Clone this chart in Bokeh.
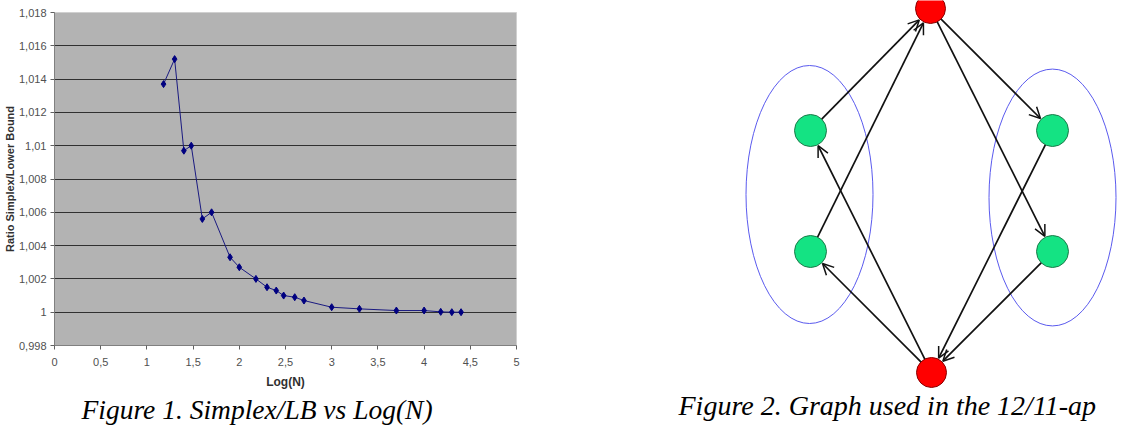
import math
from bokeh.plotting import figure
from bokeh.models import (FixedTicker, CustomJSTickFormatter, Title, Range1d,
                          ColumnDataSource, Arrow, OpenHead)
from bokeh.core.properties import value
from bokeh.layouts import row, column
from bokeh.embed import file_html
from bokeh.resources import INLINE

# ---------------- Figure 1 data ----------------
log_n = [1.18, 1.30, 1.40, 1.48, 1.60, 1.70, 1.90, 2.00, 2.18, 2.30, 2.40,
         2.48, 2.60, 2.70, 3.00, 3.30, 3.70, 4.00, 4.18, 4.30, 4.40]
ratio = [1.0137, 1.0152, 1.0097, 1.0100, 1.0056, 1.0060, 1.0033, 1.0027,
         1.0020, 1.0015, 1.0013, 1.0010, 1.0009, 1.0007, 1.0003, 1.0002,
         1.0001, 1.0001, 1.00002, 1.0000, 1.0000]
x_ticks = [0, 0.5, 1, 1.5, 2, 2.5, 3, 3.5, 4, 4.5, 5]
y_ticks = [0.998, 1.000, 1.002, 1.004, 1.006, 1.008, 1.010, 1.012, 1.014, 1.016, 1.018]
x_title = "Log(N)"
y_title = "Ratio Simplex/Lower Bound"
caption1 = "Figure 1. Simplex/LB vs Log(N)"

# ---------------- Figure 2 data ----------------
node_names = ["top", "L1", "L2", "R1", "R2", "bottom"]
node_x = [930, 810, 810, 1052, 1052, 931]
node_y = [8, 130, 251, 130, 251, 372]
node_r = [15, 16, 16, 16, 16, 15]
node_color = ["#ff0000", "#14e383", "#14e383", "#14e383", "#14e383", "#ff0000"]
node_line = ["#8a0000", "#1d7a4a", "#1d7a4a", "#1d7a4a", "#1d7a4a", "#8a0000"]
edges = [("L1", "top"), ("L2", "top"), ("top", "R1"), ("top", "R2"),
         ("R1", "bottom"), ("R2", "bottom"), ("bottom", "L1"), ("bottom", "L2")]
ell_x = [809, 1052]
ell_y = [194, 197]
ell_w = [127, 127]
ell_h = [258, 257]
caption2 = "Figure 2. Graph used in the 12/11-ap"

W, H = 1137, 426
W1 = 560

# ---------------- Figure 1 ----------------
p1 = figure(width=W1, height=H, output_backend="svg", toolbar_location=None,
            x_range=Range1d(0, 5), y_range=Range1d(0.998, 1.018),
            min_border_left=51, min_border_right=44, min_border_top=12,
            min_border_bottom=81)
p1.background_fill_color = "#b3b3b3"
p1.border_fill_color = "white"
p1.outline_line_color = "#d0d0d0"

fmt = CustomJSTickFormatter(code="return String(Math.round(tick*1000)/1000).replace('.', ',');")
for ax, ticks in ((p1.xaxis[0], x_ticks), (p1.yaxis[0], y_ticks)):
    ax.ticker = FixedTicker(ticks=ticks)
    ax.formatter = fmt
    ax.axis_line_color = "#808080"
    ax.major_tick_line_color = "#606060"
    ax.major_tick_out = 4
    ax.major_tick_in = 0
    ax.minor_tick_out = 0
    ax.minor_tick_in = 0
    ax.major_label_text_font = "Liberation Sans"
    ax.major_label_text_font_size = "11px"
    ax.major_label_text_color = "#505050"
    ax.axis_label_text_font = "Liberation Sans"
    ax.axis_label_text_font_size = "11px"
    ax.axis_label_text_font_style = "bold"
    ax.axis_label_text_color = "#303030"
p1.xaxis.major_label_standoff = 8
p1.yaxis.major_label_standoff = 4
p1.xaxis.axis_label = x_title
p1.xaxis.axis_label_text_font_size = "12px"
p1.xaxis.axis_label_standoff = 6
p1.yaxis.axis_label = y_title
p1.yaxis.axis_label_standoff = 0

p1.xgrid.visible = False
p1.ygrid.ticker = FixedTicker(ticks=y_ticks[1:-1])
p1.ygrid.grid_line_color = "#303030"
p1.ygrid.grid_line_width = 1

p1.line(log_n, ratio, line_color="#1a1a80", line_width=1)
p1.scatter(log_n, ratio, marker="diamond", size=7, fill_color="#000080",
           line_color="#000080")

p1.add_layout(Title(text=caption1, align="left", offset=27, standoff=0,
                    text_font="Liberation Serif", text_font_size="27.5px",
                    text_font_style="italic", text_color="black"), "below")

# ---------------- Figure 2 ----------------
p2 = figure(width=W - W1, height=H, output_backend="svg", toolbar_location=None,
            x_range=Range1d(W1, W), y_range=Range1d(H, 0),
            min_border=0)
p2.axis.visible = False
p2.grid.visible = False
p2.outline_line_color = None
p2.background_fill_color = "white"

p2.ellipse(x=ell_x, y=ell_y, width=ell_w, height=ell_h, fill_color=None,
           line_color="#5a5aee", line_width=1)

idx = {n: i for i, n in enumerate(node_names)}
xs, ys, xe, ye = [], [], [], []
for a, b in edges:
    i, j = idx[a], idx[b]
    dx = node_x[j] - node_x[i]
    dy = node_y[j] - node_y[i]
    d = math.hypot(dx, dy)
    ux, uy = dx / d, dy / d
    xs.append(node_x[i] + ux * node_r[i])
    ys.append(node_y[i] + uy * node_r[i])
    xe.append(node_x[j] - ux * (node_r[j] + 1))
    ye.append(node_y[j] - uy * (node_r[j] + 1))
src = ColumnDataSource(dict(xs=xs, ys=ys, xe=xe, ye=ye))
p2.add_layout(Arrow(end=OpenHead(size=11, line_color="#111111", line_width=1.5),
                    x_start="xs", y_start="ys", x_end="xe", y_end="ye",
                    source=src, line_color="#111111", line_width=1.7))

p2.circle(x=node_x, y=node_y, radius=node_r, fill_color=node_color,
          line_color=node_line, line_width=1)

p2.text(x=[678], y=[405], text=[caption2],
        text_align="left", text_baseline="middle",
        text_font=value("Liberation Serif"), text_font_size="28px",
        text_font_style="italic", text_color="black")

layout = row(column(p1), column(p2), spacing=0)
open("out.html", "w").write(file_html(layout, INLINE))
